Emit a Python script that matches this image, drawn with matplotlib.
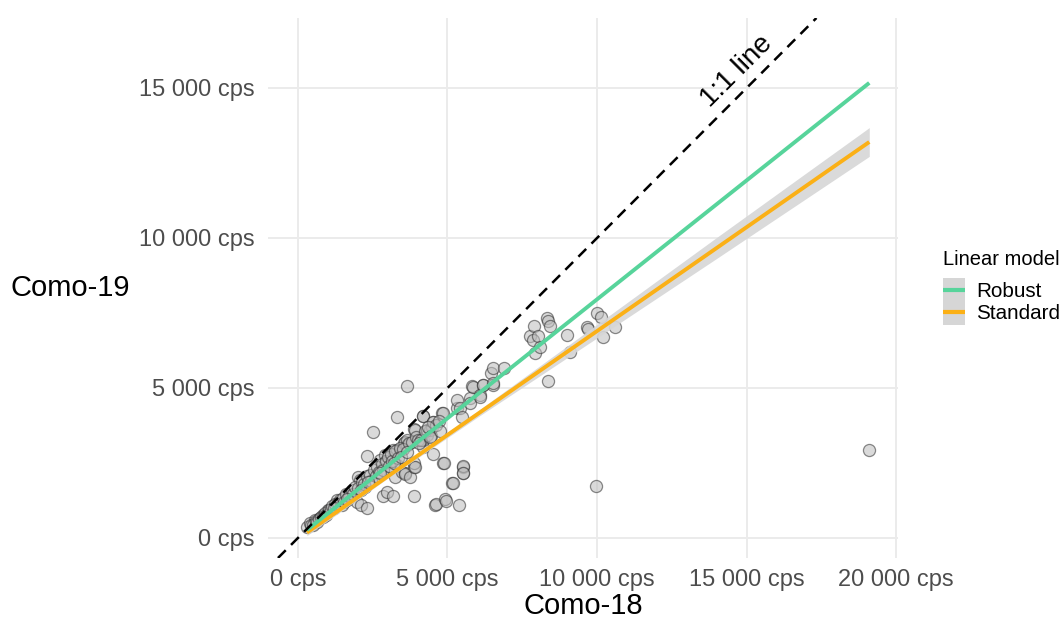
import matplotlib
matplotlib.use("Agg")
import matplotlib.pyplot as plt
from matplotlib.patches import Rectangle
from matplotlib.lines import Line2D
from matplotlib.ticker import FuncFormatter

plt.rcParams['font.family'] = ['Liberation Sans', 'DejaVu Sans']

# Count rates per sample: Como-18 (x) vs Como-19 (y), in cps
como18 = [
    290, 401, 569, 736, 847, 1014, 1181, 1294, 1460, 1628, 1739, 1962, 2018, 2074,
    2096, 2241, 2297, 2297, 2497, 2743, 2854, 2910, 2910, 2988, 3077, 3166, 3188,
    3244, 3300, 3300, 3300, 3411, 3467, 3545, 3568, 3579, 3579, 3635, 3635, 3635,
    3746, 3880, 3880, 3880, 3880, 3913, 3913, 4170, 4191, 4192, 4192, 4303, 4304,
    4415, 4471, 4505, 4526, 4526, 4582, 4615, 4615, 4806, 4838, 4861, 4883, 4927,
    4950, 5150, 5173, 5306, 5306, 5395, 5418, 5475, 5508, 5508, 5530, 5530, 5752,
    5752, 5809, 5864, 6087, 6087, 6197, 6197, 6445, 6532, 6532, 6532, 6890,
    7759, 7849, 7893, 7926, 8037, 8094, 8318, 8372, 8372, 8428, 8986, 9097,
    9655, 9709, 9967, 9990, 10124, 10211, 10602, 19097,
    # dense band along the fit lines
    450, 520, 600, 650, 700, 780, 850, 900, 950, 1050, 1100, 1150, 1250, 1350,
    1400, 1500, 1550, 1600, 1700, 1800, 1850, 1900, 2000, 2150, 2200, 2300, 2400,
    2450, 2550, 2600, 2650, 2700, 2800, 2850, 2950, 3000, 3050, 3100, 3150, 3250,
    3350, 3400, 3500, 3700, 3800, 3950, 4000, 4100, 4250, 4350, 4450, 4700, 4750,
    1200, 1650, 2100, 2350, 2750, 3200, 3450, 3650, 4050, 4400,
]
como19 = [
    378, 489, 600, 656, 767, 933, 989, 1267, 1100, 1267, 1378, 1211, 2044, 1933,
    1100, 1711, 989, 2733, 3522, 2600, 1400, 2767, 2489, 1544, 2378, 1400, 2933,
    2022, 4044, 2433, 2933, 2933, 2211, 3156, 2156, 3211, 2133, 5067, 3100, 3267,
    2044, 1400, 3622, 2356, 2511, 3600, 2356, 4067, 3044, 4067, 3267, 3433, 3600,
    3600, 3711, 3878, 3878, 2800, 1100, 3767, 1122, 4156, 2511, 4156, 2511, 1289,
    1244, 1822, 1844, 4322, 4600, 1100, 4322, 4044, 2356, 2156, 2400, 2156, 4656,
    4489, 5067, 5044, 4767, 4711, 5100, 5100, 5489, 5656, 5100, 5156, 5656,
    6733, 6600, 7067, 6178, 6733, 6378, 7322, 7244, 5244, 7067, 6767, 6211,
    7044, 6956, 1733, 7489, 7356, 6711, 7044, 2933,
    420, 430, 560, 520, 640, 700, 690, 820, 780, 930, 960, 1050, 1120, 1180,
    1260, 1320, 1200, 1450, 1400, 1600, 1450, 1700, 1650, 1850, 1800, 2050, 2100,
    1900, 2250, 2050, 2350, 2200, 2450, 2250, 2550, 2700, 2400, 2800, 2550, 2900,
    2650, 3000, 2950, 3150, 3200, 3350, 3250, 3250, 3550, 3700, 3400, 3900, 3550,
    1000, 1300, 1600, 1850, 2150, 2500, 2700, 2850, 3150, 3350,
]

# Fitted lines (endpoints over the observed x range)
fit_x = [300, 19100]
robust_y = [265, 15170]
standard_y = [180, 13200]

# Confidence band of the standard fit
band_x = [300, 3000, 6000, 10000, 14000, 19100]
band_lo = [80, 1990, 4025, 6670, 9320, 12720]
band_hi = [280, 2110, 4230, 7120, 10020, 13680]

x_ticks = [0, 5000, 10000, 15000, 20000]
y_ticks = [0, 5000, 10000, 15000]

model_names = ['Robust', 'Standard']

GREEN = '#57D49B'
ORANGE = '#FBB016'
BAND = '#D6D6D6'

W, H = 1062, 625
fig = plt.figure(figsize=(W / 100, H / 100), dpi=100)
ax = fig.add_axes([268 / W, 1 - 558 / H, (898 - 268) / W, (558 - 18) / H])

ax.set_xlim(-1000, 20060)
ax.set_ylim(-667, 17333)

ax.set_xticks(x_ticks)
ax.set_yticks(y_ticks)
fmt = FuncFormatter(lambda v, p: f"{int(v):,} cps".replace(",", " "))
ax.xaxis.set_major_formatter(fmt)
ax.yaxis.set_major_formatter(fmt)
ax.tick_params(axis='both', length=0, labelsize=17, labelcolor='#4D4D4D')
ax.tick_params(axis='x', pad=8)
ax.tick_params(axis='y', pad=9.5)
ax.grid(True, color='#EBEBEB', linewidth=1.4, zorder=0)
ax.set_axisbelow(True)
for s in ax.spines.values():
    s.set_visible(False)

ax.scatter(como18, como19, s=76, facecolor='#BDBDBD', edgecolor='#2E2E2E',
           linewidth=0.9, alpha=0.55, zorder=2)

ax.fill_between(band_x, band_lo, band_hi, color=BAND, alpha=0.9, lw=0, zorder=2.5)
ax.plot(fit_x, standard_y, color=ORANGE, lw=2.8, solid_capstyle='butt', zorder=3)
ax.plot(fit_x, robust_y, color=GREEN, lw=2.8, solid_capstyle='butt', zorder=3.1)

ax.axline((0, 0), slope=1, color='black', lw=1.8, dashes=(4.4, 3.0), zorder=3.5)
ax.annotate('1:1 line', xy=(15100, 15100), xytext=(-3, 3.5), textcoords='offset points',
            rotation=45, rotation_mode='anchor', ha='center', va='bottom',
            fontsize=20, color='black', zorder=4)

fig.text(10 / W, 1 - 288 / H, 'Como-19', ha='left', va='center', fontsize=21)
fig.text(583 / W, 1 - 606 / H, 'Como-18', ha='center', va='center', fontsize=21)

# Legend: grey key column with coloured line keys
fig.text(943 / W, 1 - 260 / H, 'Linear model', ha='left', va='center', fontsize=14.5)
fig.patches.append(Rectangle((943 / W, 1 - 325 / H), 22 / W, 47 / H,
                             transform=fig.transFigure, facecolor=BAND,
                             edgecolor='none'))
for name, col, ypix in zip(model_names, [GREEN, ORANGE], [290, 312]):
    fig.lines.append(Line2D([943 / W, 965 / W], [1 - ypix / H, 1 - ypix / H],
                            transform=fig.transFigure, color=col, lw=3.0,
                            solid_capstyle='butt'))
    fig.text(976 / W, 1 - (ypix + 1.5) / H, name, ha='left', va='center', fontsize=14.9)

fig.savefig('out.png', dpi=100)
